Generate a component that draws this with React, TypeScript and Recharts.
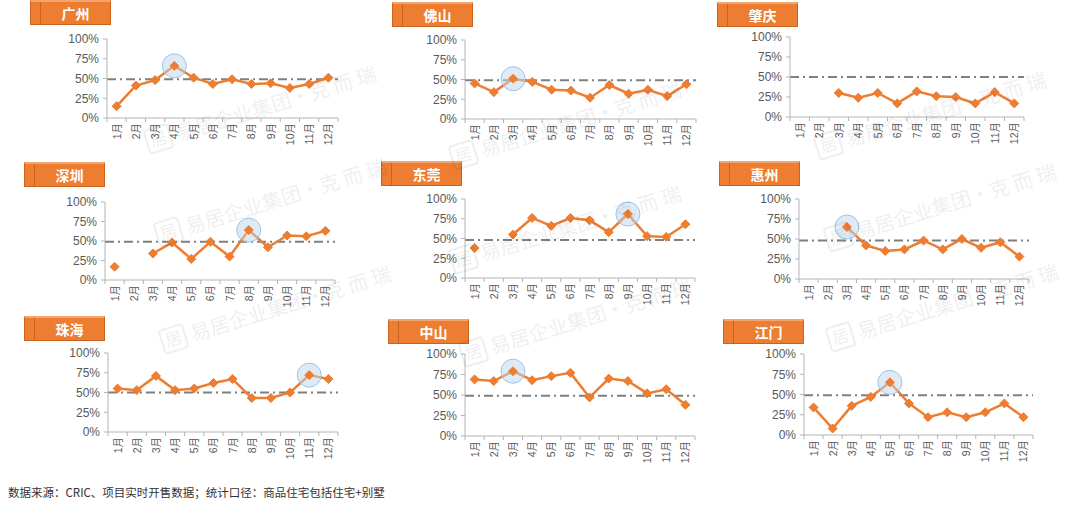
import React from "react";
import { LineChart, Line, XAxis, YAxis, ReferenceLine, ReferenceDot } from "recharts";

const months = ["1月", "2月", "3月", "4月", "5月", "6月", "7月", "8月", "9月", "10月", "11月", "12月"];

const guangzhou = [15, 41, 48, 66, 51, 43, 49, 43, 44, 38, 43, 51];
const foshan = [45, 34, 51, 47, 37, 36, 27, 43, 32, 37, 29, 44];
const zhaoqing = [null, null, 30, 24, 30, 17, 32, 26, 25, 17, 31, 17];
const shenzhen = [17, null, 34, 48, 27, 49, 30, 64, 42, 57, 56, 63];
const dongguan = [38, null, 55, 76, 66, 76, 73, 58, 81, 53, 52, 68];
const huizhou = [null, null, 65, 42, 35, 37, 48, 37, 50, 39, 46, 28];
const zhuhai = [55, 53, 71, 53, 55, 62, 67, 43, 43, 50, 72, 67];
const zhongshan = [69, 67, 79, 68, 73, 77, 47, 70, 67, 52, 57, 38];
const jiangmen = [34, 8, 36, 47, 65, 39, 22, 28, 22, 28, 39, 22];

const cities = ["广州", "佛山", "肇庆", "深圳", "东莞", "惠州", "珠海", "中山", "江门"];
const averages = [49, 49, 50, 49, 48, 48, 50, 49, 49];
const highlights = ["4月", "3月", null, "8月", "9月", "3月", "11月", "3月", "5月"];
const seriesList = [guangzhou, foshan, zhaoqing, shenzhen, dongguan, huizhou, zhuhai, zhongshan, jiangmen];

const yTicks = [0, 25, 50, 75, 100];

// layout: axis x, top (100%), bottom (0%), right end of the category axis, title box position
const panels = [
  { ax: 107, top: 39, bottom: 118, right: 338, tx: 30, ty: 0 },
  { ax: 465, top: 40, bottom: 119, right: 696, tx: 392, ty: 2 },
  { ax: 790, top: 37, bottom: 117, right: 1024, tx: 717, ty: 2 },
  { ax: 105, top: 202, bottom: 280, right: 335, tx: 24, ty: 162 },
  { ax: 465, top: 199, bottom: 278, right: 695, tx: 381, ty: 161 },
  { ax: 799, top: 199, bottom: 279, right: 1029, tx: 719, ty: 161 },
  { ax: 108, top: 353, bottom: 432, right: 338, tx: 24, ty: 316 },
  { ax: 465, top: 354, bottom: 436, right: 695, tx: 388, ty: 319 },
  { ax: 804, top: 354, bottom: 435, right: 1033, tx: 723, ty: 319 },
];

const ORANGE = "#ED7D31";
const AXIS = "#B4B4B4";
const TEXT = "#595959";
const YW = 45;
const MT = 8;
const XH = 32;

const Diamond = (props: any) => {
  const { cx, cy, value, index } = props;
  if (value == null || cx == null || cy == null) return <g key={`d-${index}`} />;
  const s = 4.5;
  return (
    <polygon
      key={`d-${index}`}
      points={`${cx},${cy - s} ${cx + s},${cy} ${cx},${cy + s} ${cx - s},${cy}`}
      fill={ORANGE}
      stroke={ORANGE}
    />
  );
};

function makeTick(step: number) {
  return (props: any) => {
    const { x, y, payload, index } = props;
    const ty = y + 5;
    return (
      <g>
        <line x1={x - step / 2} x2={x - step / 2} y1={y} y2={y + 4} stroke={AXIS} />
        {index === months.length - 1 && (
          <line x1={x + step / 2} x2={x + step / 2} y1={y} y2={y + 4} stroke={AXIS} />
        )}
        <text
          x={x}
          y={ty}
          transform={`rotate(-90 ${x} ${ty})`}
          textAnchor="end"
          dominantBaseline="central"
          fontSize={10.5}
          fill={TEXT}
          fontFamily="'Liberation Sans', 'Noto Sans CJK SC', sans-serif"
        >
          {payload.value}
        </text>
      </g>
    );
  };
}

function TitleBox({ x, y, label }: { x: number; y: number; label: string }) {
  return (
    <div
      style={{
        position: "absolute",
        left: x,
        top: y,
        width: 81,
        height: 25,
        background: ORANGE,
        border: "1px solid #C8621C",
        boxSizing: "border-box",
        borderTop: "2px solid #F4A46E",
      }}
    >
      <div style={{ position: "absolute", left: 9, top: 0, bottom: 0, width: 1, background: "#C8621C" }} />
      <div
        style={{
          position: "absolute",
          left: 10,
          right: 0,
          top: 0,
          bottom: 0,
          color: "#fff",
          fontWeight: 700,
          fontSize: 14,
          lineHeight: "22px",
          textAlign: "center",
          fontFamily: "'Noto Sans CJK SC', sans-serif",
        }}
      >
        {label}
      </div>
    </div>
  );
}

function Panel({ i }: { i: number }) {
  const p = panels[i];
  const values = seriesList[i];
  const data = months.map((m, k) => ({ month: m, rate: values[k] }));
  const plotW = p.right - p.ax;
  const step = plotW / months.length;
  const h = highlights[i];
  const hv = h ? values[months.indexOf(h)] : null;
  return (
    <div style={{ position: "absolute", left: p.ax - YW, top: p.top - MT }}>
      <LineChart
        width={YW + plotW + 6}
        height={MT + (p.bottom - p.top) + XH}
        data={data}
        margin={{ top: MT, right: 6, left: 0, bottom: 0 }}
      >
        <XAxis
          dataKey="month"
          interval={0}
          height={XH}
          padding={{ left: step / 2, right: step / 2 }}
          tickSize={0}
          tickMargin={0}
          tickLine={false}
          axisLine={{ stroke: AXIS }}
          tick={makeTick(step)}
        />
        <YAxis
          type="number"
          domain={[0, 100]}
          ticks={yTicks}
          interval={0}
          width={YW}
          tickSize={4}
          tickMargin={4}
          axisLine={{ stroke: AXIS }}
          tickLine={{ stroke: AXIS }}
          tick={{ fill: TEXT, fontSize: 12, fontFamily: "'Liberation Sans', Arial, sans-serif" }}
          tickFormatter={(v: number) => `${v}%`}
        />
        <ReferenceLine y={averages[i]} stroke="#7F7F7F" strokeWidth={2} strokeDasharray="9 4 2 4" />
        {h && hv != null && (
          <ReferenceDot x={h} y={hv} r={12} fill="rgba(189,215,238,0.5)" stroke="#9DC3E6" strokeWidth={1} />
        )}
        <Line
          dataKey="rate"
          stroke={ORANGE}
          strokeWidth={2.5}
          dot={Diamond}
          activeDot={false}
          isAnimationActive={false}
        />
      </LineChart>
    </div>
  );
}

const watermarks = [
  [150, 152], [455, 168], [820, 158],
  [160, 245], [455, 272], [830, 250],
  [165, 352], [465, 365], [832, 350],
];

function Watermarks() {
  return (
    <svg width={1080} height={507} style={{ position: "absolute", left: 0, top: 0, pointerEvents: "none" }}>
      {watermarks.map(([x, y], k) => (
        <g key={k} transform={`rotate(-17 ${x} ${y})`} opacity={0.06}>
          <rect x={x} y={y - 22} width={24} height={24} rx={3} fill="none" stroke="#000" strokeWidth={2} />
          <text x={x + 12} y={y - 4} fontSize={17} textAnchor="middle" fill="#000" fontFamily="'Noto Sans CJK SC', sans-serif">
            居
          </text>
          <text x={x + 30} y={y - 2} fontSize={20} fill="#000" fontFamily="'Noto Sans CJK SC', sans-serif">
            易居企业集团·克 而 瑞
          </text>
        </g>
      ))}
    </svg>
  );
}

export default function App() {
  return (
    <div
      style={{
        position: "absolute",
        left: 0,
        top: 0,
        width: 1080,
        height: 507,
        background: "#fff",
        overflow: "hidden",
        fontFamily: "'Noto Sans CJK SC', sans-serif",
      }}
    >
      {cities.map((c, i) => (
        <React.Fragment key={c}>
          <TitleBox x={panels[i].tx} y={panels[i].ty} label={c} />
          <Panel i={i} />
        </React.Fragment>
      ))}
      <Watermarks />
      <div
        style={{
          position: "absolute",
          left: 8,
          top: 484,
          fontSize: 11.5,
          color: "#333",
          whiteSpace: "nowrap",
        }}
      >
        数据来源：CRIC、项目实时开售数据；统计口径：商品住宅包括住宅+别墅
      </div>
    </div>
  );
}
